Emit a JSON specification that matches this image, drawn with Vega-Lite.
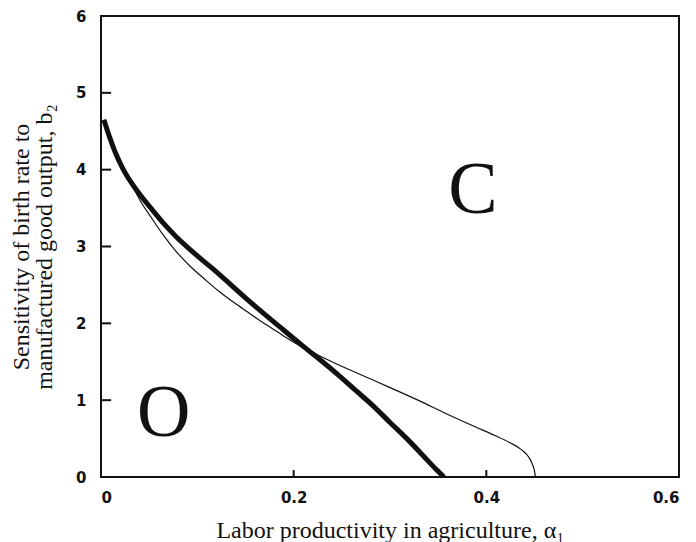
{
  "$schema": "https://vega.github.io/schema/vega-lite/v6.json",
  "width": 578,
  "height": 461,
  "autosize": {"type": "none"},
  "padding": {"left": 101, "top": 16, "right": 17, "bottom": 65},
  "background": "white",
  "config": {
    "view": {"stroke": "#111", "strokeWidth": 2},
    "axis": {"grid": false, "labelFont": "DejaVu Sans", "labelFontWeight": "bold", "labelFontSize": 15, "labelColor": "#111",
             "titleFont": "Liberation Serif", "titleFontWeight": "normal", "titleFontSize": 24, "titleColor": "#111"}
  },
  "datasets": {
    "curves": [
      {"a": 0.003, "b": 4.65, "s": "thick"},
      {"a": 0.009, "b": 4.42, "s": "thick"},
      {"a": 0.015, "b": 4.22, "s": "thick"},
      {"a": 0.022, "b": 4.03, "s": "thick"},
      {"a": 0.032, "b": 3.82, "s": "thick"},
      {"a": 0.042, "b": 3.65, "s": "thick"},
      {"a": 0.053, "b": 3.48, "s": "thick"},
      {"a": 0.065, "b": 3.30, "s": "thick"},
      {"a": 0.077, "b": 3.14, "s": "thick"},
      {"a": 0.097, "b": 2.91, "s": "thick"},
      {"a": 0.118, "b": 2.69, "s": "thick"},
      {"a": 0.152, "b": 2.31, "s": "thick"},
      {"a": 0.186, "b": 1.95, "s": "thick"},
      {"a": 0.210, "b": 1.70, "s": "thick"},
      {"a": 0.230, "b": 1.50, "s": "thick"},
      {"a": 0.248, "b": 1.31, "s": "thick"},
      {"a": 0.265, "b": 1.12, "s": "thick"},
      {"a": 0.283, "b": 0.92, "s": "thick"},
      {"a": 0.300, "b": 0.71, "s": "thick"},
      {"a": 0.319, "b": 0.48, "s": "thick"},
      {"a": 0.335, "b": 0.27, "s": "thick"},
      {"a": 0.347, "b": 0.11, "s": "thick"},
      {"a": 0.356, "b": 0.00, "s": "thick"},
      {"a": 0.003, "b": 4.65, "s": "thin"},
      {"a": 0.012, "b": 4.30, "s": "thin"},
      {"a": 0.022, "b": 4.02, "s": "thin"},
      {"a": 0.032, "b": 3.80, "s": "thin"},
      {"a": 0.042, "b": 3.57, "s": "thin"},
      {"a": 0.052, "b": 3.38, "s": "thin"},
      {"a": 0.064, "b": 3.16, "s": "thin"},
      {"a": 0.077, "b": 2.95, "s": "thin"},
      {"a": 0.092, "b": 2.75, "s": "thin"},
      {"a": 0.108, "b": 2.57, "s": "thin"},
      {"a": 0.123, "b": 2.41, "s": "thin"},
      {"a": 0.138, "b": 2.27, "s": "thin"},
      {"a": 0.153, "b": 2.14, "s": "thin"},
      {"a": 0.168, "b": 2.01, "s": "thin"},
      {"a": 0.183, "b": 1.89, "s": "thin"},
      {"a": 0.198, "b": 1.77, "s": "thin"},
      {"a": 0.217, "b": 1.64, "s": "thin"},
      {"a": 0.238, "b": 1.51, "s": "thin"},
      {"a": 0.268, "b": 1.34, "s": "thin"},
      {"a": 0.299, "b": 1.17, "s": "thin"},
      {"a": 0.329, "b": 1.00, "s": "thin"},
      {"a": 0.359, "b": 0.82, "s": "thin"},
      {"a": 0.389, "b": 0.65, "s": "thin"},
      {"a": 0.409, "b": 0.54, "s": "thin"},
      {"a": 0.424, "b": 0.45, "s": "thin"},
      {"a": 0.436, "b": 0.36, "s": "thin"},
      {"a": 0.444, "b": 0.26, "s": "thin"},
      {"a": 0.448, "b": 0.16, "s": "thin"},
      {"a": 0.450, "b": 0.08, "s": "thin"},
      {"a": 0.451, "b": 0.00, "s": "thin"}
    ],
    "labels": [
      {"a": 0.065, "b": 0.53, "t": "O"},
      {"a": 0.386, "b": 3.44, "t": "C"}
    ],
    "yticks": [{"v": 1}, {"v": 2}, {"v": 3}, {"v": 4}, {"v": 5}],
    "xticks": [{"v": 0.2}, {"v": 0.4}]
  },
  "layer": [
    {
      "data": {"name": "curves"},
      "mark": {"type": "line", "color": "#111", "interpolate": "monotone", "clip": true},
      "encoding": {
        "x": {"field": "a", "type": "quantitative", "scale": {"domain": [0, 0.6], "nice": false},
              "axis": {"values": [0, 0.2, 0.4, 0.6], "format": "~g", "title": "Labor productivity in agriculture, α₁",
                       "domain": false, "ticks": false, "labelPadding": 13, "titlePadding": 13}},
        "y": {"field": "b", "type": "quantitative", "scale": {"domain": [0, 6], "nice": false},
              "axis": {"values": [0, 1, 2, 3, 4, 5, 6], "format": "~g", "title": ["Sensitivity of birth rate to", "manufactured good output, b₂"],
                       "domain": false, "ticks": false, "labelPadding": 15, "titlePadding": 19, "titleLineHeight": 23}},
        "detail": {"field": "s", "type": "nominal"},
        "strokeWidth": {"field": "s", "type": "nominal", "scale": {"domain": ["thick", "thin"], "range": [5, 1.2]}, "legend": null},
        "order": {"field": "a", "type": "quantitative"}
      }
    },
    {
      "data": {"name": "yticks"},
      "mark": {"type": "rule", "color": "#111", "strokeWidth": 2},
      "encoding": {
        "y": {"field": "v", "type": "quantitative"},
        "x": {"datum": 0},
        "x2": {"datum": 0.0105}
      }
    },
    {
      "data": {"name": "xticks"},
      "mark": {"type": "rule", "color": "#111", "strokeWidth": 2},
      "encoding": {
        "x": {"field": "v", "type": "quantitative"},
        "y": {"datum": 0},
        "y2": {"datum": 0.09}
      }
    },
    {
      "data": {"name": "labels"},
      "mark": {"type": "text", "font": "Liberation Serif", "fontSize": 74, "align": "center", "baseline": "alphabetic", "color": "#111"},
      "encoding": {
        "x": {"field": "a", "type": "quantitative"},
        "y": {"field": "b", "type": "quantitative"},
        "text": {"field": "t", "type": "nominal"}
      }
    }
  ]
}
